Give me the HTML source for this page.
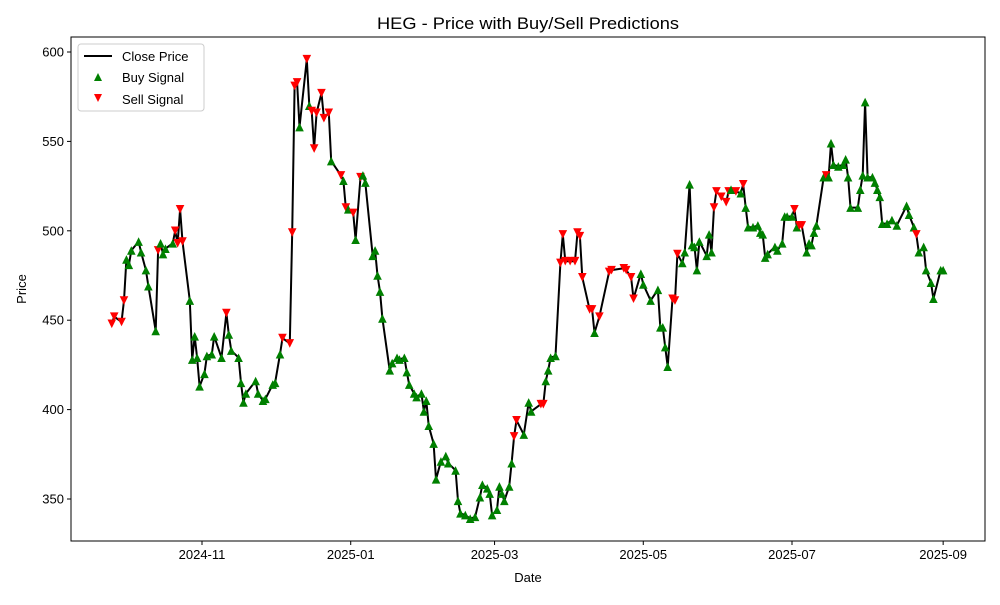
<!DOCTYPE html>
<html><head><meta charset="utf-8"><style>
body{margin:0;background:#fff}
text{font-family:"Liberation Sans","DejaVu Sans",sans-serif;fill:#000}
</style></head><body>
<svg id="chart" width="1000" height="600" viewBox="0 0 1000 600" xmlns="http://www.w3.org/2000/svg">
<rect width="1000" height="600" fill="#fff"/>
<text x="528" y="29" font-size="17" text-anchor="middle" textLength="302" lengthAdjust="spacingAndGlyphs">HEG - Price with Buy/Sell Predictions</text>
<g id="plot"></g>
<text x="528" y="582" font-size="13" text-anchor="middle">Date</text>
<text transform="translate(26,289) rotate(-90)" font-size="13" text-anchor="middle">Price</text>
<g>
<rect x="78" y="44" width="126" height="67" rx="3" fill="#fff" fill-opacity="0.8" stroke="#ccc"/>
<line x1="84" y1="56" x2="112" y2="56" stroke="#000" stroke-width="2"/>
<text x="122" y="61" font-size="13">Close Price</text>
<polygon points="98,73 102,81 94,81" fill="green"/>
<text x="122" y="82" font-size="13">Buy Signal</text>
<polygon points="94,94 102,94 98,102" fill="red"/>
<text x="122" y="104" font-size="13">Sell Signal</text>
</g>
</svg>
<script>
// days since 2024-11-01
const days=[-37,-36,-33,-32,-31,-30,-29,-26,-25,-23,-22,-19,-18,-17,-16,-15,-12,-11,-10,-9,-8,-5,-4,-3,-2,-1,1,2,4,5,8,10,11,12,15,16,17,18,22,23,25,26,29,30,32,33,36,37,38,39,40,43,44,45,46,47,49,50,52,53,57,58,59,60,62,63,65,66,67,70,71,72,73,74,77,78,80,81,83,84,85,87,88,90,91,92,93,95,96,98,100,101,104,105,106,108,110,112,114,115,117,118,119,121,122,123,124,126,127,128,129,132,134,135,139,140,141,142,143,145,147,148,149,151,153,154,155,156,159,160,161,163,167,168,173,174,176,177,180,181,184,187,188,189,190,191,193,194,195,197,198,200,201,202,203,204,207,208,209,210,211,213,215,216,217,219,221,222,223,224,226,228,229,230,231,232,235,236,238,239,240,242,243,244,245,246,248,249,250,251,252,255,256,257,258,259,261,263,264,265,266,269,270,271,272,273,275,276,277,278,279,281,283,285,289,290,292,293,294,296,297,299,300,303,304];
const closes=[448,452,449,461,484,481,489,494,488,478,469,444,489,493,487,490,493,500,493,512,494,461,428,441,429,413,420,430,431,441,429,454,442,433,429,415,404,409,416,409,405,406,414,415,431,440,437,499,581,583,558,596,570,567,546,566,577,563,566,539,531,528,513,512,510,495,530,531,527,486,489,475,466,451,422,426,429,428,429,421,414,409,407,409,399,405,391,381,361,371,374,370,366,349,342,341,339,340,351,358,356,353,341,344,357,353,349,357,370,385,394,386,404,399,403,403,416,422,429,430,482,498,483,483,483,499,497,474,456,456,443,452,477,478,479,478,474,462,476,470,461,467,446,446,435,424,462,461,487,482,488,526,492,491,478,494,486,498,488,513,522,519,516,522,523,522,521,526,513,502,502,503,499,498,485,487,491,489,493,508,508,508,512,502,503,503,488,493,492,499,503,530,531,530,549,537,536,537,540,530,513,513,523,531,572,530,530,527,523,519,504,504,506,503,514,509,502,498,488,491,478,471,462,478,478];
const signals=["S","S","S","S","B","B","B","B","B","B","B","B","S","B","B","B","B","S","S","S","S","B","B","B","B","B","B","B","B","B","B","S","B","B","B","B","B","B","B","B","B","B","B","B","B","S","S","S","S","S","B","S","B","S","S","S","S","S","S","B","S","B","S","B","S","B","S","B","B","B","B","B","B","B","B","B","B","B","B","B","B","B","B","B","B","B","B","B","B","B","B","B","B","B","B","B","B","B","B","B","B","B","B","B","B","B","B","B","B","S","S","B","B","B","S","S","B","B","B","B","S","S","S","S","S","S","S","S","S","S","B","S","S","S","S","S","S","S","B","B","B","B","B","B","B","B","S","S","S","B","B","B","B","B","B","B","B","B","B","S","S","S","S","S","B","S","B","S","B","B","B","B","B","B","B","B","B","B","B","B","B","B","S","B","S","S","B","B","B","B","B","B","S","B","B","B","B","B","B","B","B","B","B","B","B","B","B","B","B","B","B","B","B","B","B","B","B","S","B","B","B","B","B","B","B"];
const yTicks=[350,400,450,500,550,600];
const xTickDays=[0,61,120,181,242,304];
const xTickLabels=["2024-11","2025-01","2025-03","2025-05","2025-07","2025-09"];

const NS="http://www.w3.org/2000/svg";
const L=71,R=985,T=37,B=541;
function xs(d){return 202+d*2.438;}
function ys(v){return 499-(v-350)*1.788;}
const g=document.getElementById('plot');
function mk(tag,attrs){const e=document.createElementNS(NS,tag);for(const k in attrs)e.setAttribute(k,attrs[k]);g.appendChild(e);return e;}

yTicks.forEach(v=>{
  const y=ys(v);
  const t=mk('line',{x1:L-4,x2:L,y1:y,y2:y,stroke:'#000','stroke-width':1});
  
  
  const tx=mk('text',{x:L-7,y:y+4.5,'font-size':13,'text-anchor':'end'});
  tx.textContent=v;
  
  
});
xTickDays.forEach((d,i)=>{
  const x=xs(d);
  const t=mk('line',{x1:x,x2:x,y1:B,y2:B+4,stroke:'#000','stroke-width':1});
  
  
  const tx=mk('text',{x:x,y:B+18,'font-size':13,'text-anchor':'middle'});
  tx.textContent=xTickLabels[i];
  
  
});

let d='';
days.forEach((dd,i)=>{d+=(i?'L':'M')+xs(dd).toFixed(1)+','+ys(closes[i]).toFixed(1);});
const line=mk('path',{d:d,fill:'none',stroke:'#000','stroke-width':2,'stroke-linejoin':'round'});



const h=4.3;
days.forEach((dd,i)=>{
  const x=xs(dd),y=ys(closes[i]);
  let p;
  if(signals[i]==='B'){
    p=mk('polygon',{points:`${x},${y-h} ${x+h},${y+h} ${x-h},${y+h}`,fill:'green'});
    
  }else{
    p=mk('polygon',{points:`${x-h},${y-h} ${x+h},${y-h} ${x},${y+h}`,fill:'red'});
    
  }
  
});

const frame=mk('rect',{x:L,y:T,width:R-L,height:B-T,fill:'none',stroke:'#000','stroke-width':1});


</script>
</body></html>
